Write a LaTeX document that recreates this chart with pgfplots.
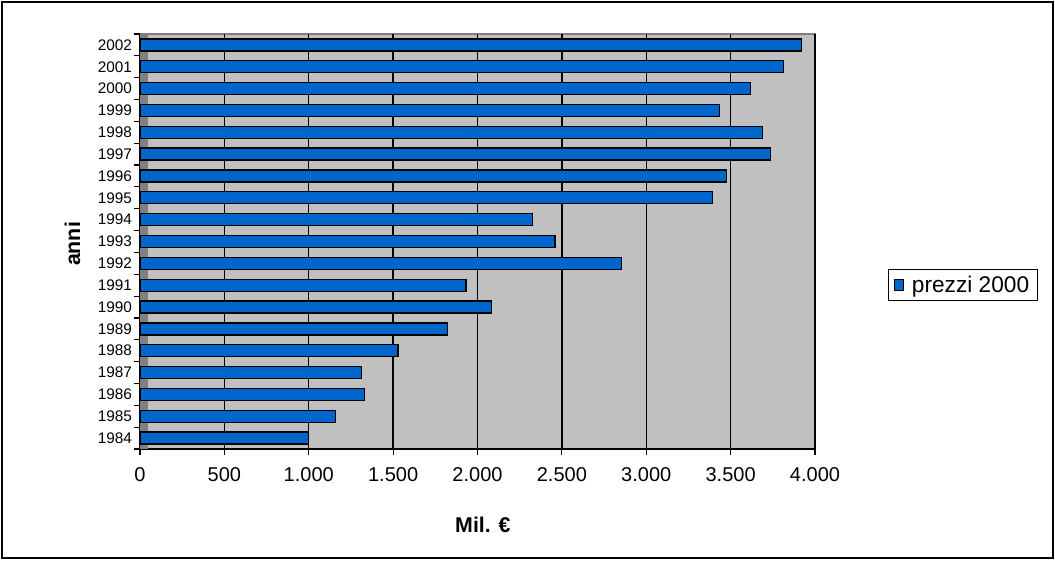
\documentclass[border=0pt]{standalone}
\usepackage{fontspec}
\setmainfont{Liberation Sans}
\usepackage{pgfplots}
\pgfplotsset{compat=1.18}
\definecolor{barblue}{HTML}{0066CC}
\definecolor{wallgray}{HTML}{C0C0C0}
\definecolor{edgegray}{HTML}{808080}
\begin{document}
\begin{tikzpicture}[x=0.75pt,y=0.75pt]
\path[use as bounding box] (0,0) rectangle (1055,560);
\draw[black, line width=0.9pt] (2,2) rectangle (1053,558);
\begin{axis}[
  at={(105pt,83.25pt)}, anchor=south west,
  scale only axis, width=506.25pt, height=311.25pt,
  xbar, bar width=9pt,
  xmin=0, xmax=4000, ymin=-0.5, ymax=18.5,
  axis x line*=bottom, axis y line*=left,
  axis line style={black, line width=1pt},
  axis background/.style={fill=wallgray, draw=edgegray, line width=1.2pt},
  xtick={0,500,...,4000},
  ytick={0,...,18},
  yticklabels={1984,1985,1986,1987,1988,1989,1990,1991,1992,1993,1994,1995,1996,1997,1998,1999,2000,2001,2002},
  minor ytick={-0.5,0.5,...,18.5},
  major y tick style={draw=none},
  minor y tick style={black, line width=0.9pt},
  x tick style={black, line width=0.9pt},
  tick align=outside,
  major tick length=4.5pt, minor tick length=4.5pt,
  xmajorgrids, major grid style={black, line width=1.1pt},
  /pgf/number format/.cd, 1000 sep={.}, assume math mode=true,
  /pgfplots/.cd,
  xticklabel style={font=\fontsize{15}{17}\selectfont, yshift=-6pt},
  yticklabel style={font=\fontsize{11.5}{13}\selectfont, xshift=2pt},
  xlabel={\textbf{Mil. €}},
  ylabel={\textbf{anni}},
  xlabel style={font=\fontsize{16}{18}\selectfont, at={(axis description cs:0.508,-0.183)}, anchor=center},
  ylabel style={font=\fontsize{16}{18}\selectfont, at={(axis description cs:-0.100,0.494)}, anchor=center},
  legend style={at={(axis description cs:1.108,0.395)}, anchor=west, draw=black, line width=0.9pt,
    font=\fontsize{17}{19}\selectfont, inner xsep=4pt, inner ysep=2.5pt},
  legend image code/.code={\draw[fill=barblue, draw=black, line width=0.6pt] (0pt,-4pt) rectangle (7pt,4pt);},
]
\fill[edgegray] (axis cs:0,-0.5) rectangle (axis cs:45,18.5);
\addplot[fill=barblue, draw=black, line width=1pt] coordinates {
  (1000,0) (1160,1) (1331,2) (1311,3) (1529,4) (1821,5) (2081,6) (1932,7)
  (2852,8) (2459,9) (2324,10) (3391,11) (3474,12) (3737,13) (3687,14)
  (3435,15) (3618,16) (3812,17) (3918,18)
};
\addlegendentry{\hspace{4pt}prezzi 2000\hspace{2pt}}
\end{axis}
\end{tikzpicture}
\end{document}
